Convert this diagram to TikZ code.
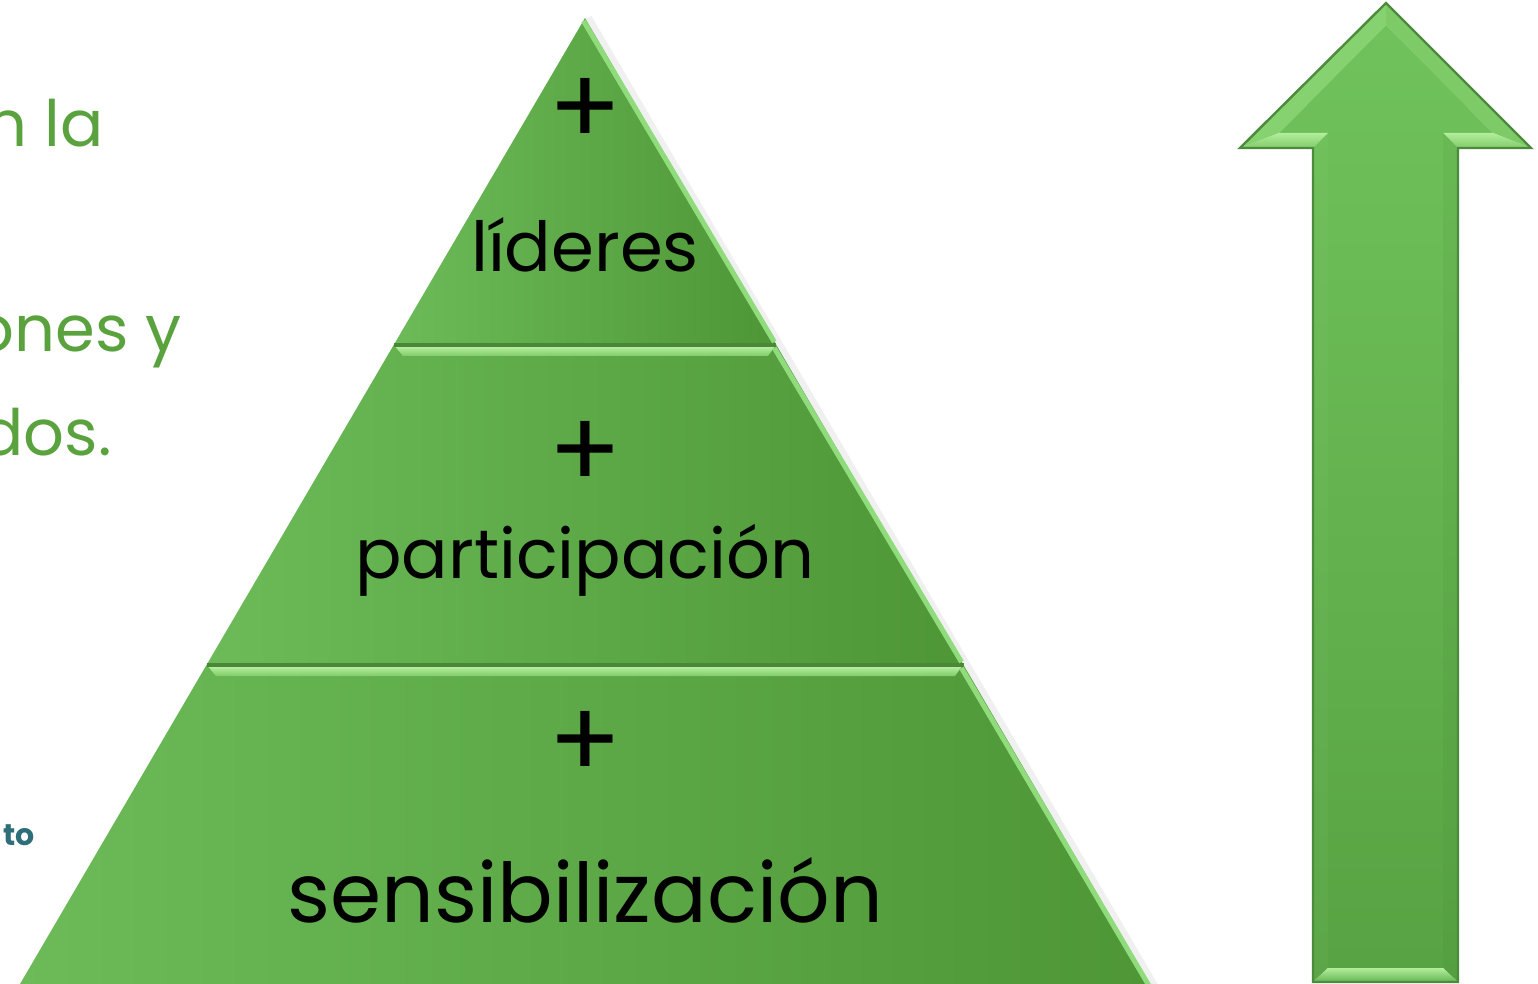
\documentclass[tikz,border=0pt]{standalone}
\usepackage{fontspec}
\setmainfont{Poppins}
\usetikzlibrary{calc}
\definecolor{gLight}{HTML}{6CBB58}
\definecolor{gDark}{HTML}{4E9636}
\definecolor{gHiTop}{HTML}{B2EE9B}
\definecolor{gHiBot}{HTML}{80CB6A}
\definecolor{gEdge}{HTML}{90DC7C}
\definecolor{gLine}{HTML}{4A8838}
\definecolor{txtGreen}{HTML}{5AA23E}
\definecolor{tealtxt}{HTML}{2D6E78}
\definecolor{arTop}{HTML}{70C25C}
\definecolor{arBot}{HTML}{58A343}
\tikzset{
  lbl/.style={inner sep=0pt, text=black},
  pluss/.style={inner sep=0pt, text=black, font=\fontsize{54}{64}\selectfont},
  lefttxt/.style={inner sep=0pt, text=txtGreen, font=\fontsize{32}{38}\selectfont},
  hiband/.style={top color=gHiTop, bottom color=gHiBot},
  layerfill/.style={left color=gLight, right color=gDark},
  edgehi/.style={gEdge, line width=2.5},
  edgeshadow/.style={black, opacity=0.06, line width=4},
}
\begin{document}
\begin{tikzpicture}[x=0.5pt,y=-0.5pt]
\useasboundingbox (0,0) rectangle (1538,984);

% ---------- left partial texts ----------
\node[lefttxt, anchor=base east] (s1) at (104,147) {n la};
\node[lefttxt, anchor=base east] (s2) at (182,352) {ones y};
\node[lefttxt, anchor=base east] (s3) at (112,455) {dos.};
\node[inner sep=0pt, anchor=base east, text=tealtxt, font=\fontsize{15}{18}\selectfont\bfseries] (s4) at (35,845) {to};

% ---------- pyramid ----------
\coordinate (apex) at (585,18);
\coordinate (l1L) at (393.7,345);
\coordinate (l1R) at (776.3,345);
\coordinate (l2L) at (206.5,665);
\coordinate (l2R) at (963.5,665);
\coordinate (l3L) at (16.5,990);
\coordinate (l3R) at (1153.5,990);

% soft shadow along the right edge
\draw[edgeshadow] ($(apex)+(3,0)$) -- ($(l3R)+(3,0)$);

\shade[layerfill] (apex) -- (l1R) -- (l1L) -- cycle;
\shade[layerfill] (l1L) -- (l1R) -- (l2R) -- (l2L) -- cycle;
\shade[layerfill] (l2L) -- (l2R) -- (l3R) -- (l3L) -- cycle;

% bevel highlights at layer tops
\shade[hiband] (395.5,347) -- (774.5,347) -- (768,356) -- (403,356) -- cycle;
\shade[hiband] (208.5,667) -- (961.5,667) -- (955,676) -- (216,676) -- cycle;
\draw[gLine, line width=2] (l1L) -- (l1R);
\draw[gLine, line width=2] (l2L) -- (l2R);

% right edge highlight
\draw[edgehi] ($(apex)+(-1.5,3)$) -- ($(l1R)+(-2,-3)$);
\draw[edgehi] ($(l1R)+(-2,3)$) -- ($(l2R)+(-2,-3)$);
\draw[edgehi] ($(l2R)+(-2,3)$) -- ($(l3R)+(-2,0)$);

% texts
\node[pluss] (p1) at (585,112) {+};
\node[lbl, anchor=base, font=\fontsize{34.5}{40}\selectfont] (t1) at (585,272) {líderes};
\node[pluss] (p2) at (585,455) {+};
\node[lbl, anchor=base, font=\fontsize{34.4}{40}\selectfont] (t2) at (585,578) {participación};
\node[pluss] (p3) at (585,745) {+};
\node[lbl, anchor=base, font=\fontsize{41.2}{48}\selectfont] (t3) at (585,922) {sensibilización};

% ---------- arrow ----------
\coordinate (aT) at (1386,3);
\coordinate (aR) at (1531,148);
\coordinate (aRS) at (1458,148);
\coordinate (aRB) at (1458,982);
\coordinate (aLB) at (1313,982);
\coordinate (aLS) at (1313,148);
\coordinate (aL) at (1240,148);
\coordinate (iT) at (1386,25);
\coordinate (iR) at (1493,133);
\coordinate (iRS) at (1443,133);
\coordinate (iRB) at (1443,968);
\coordinate (iLB) at (1328,968);
\coordinate (iLS) at (1328,133);
\coordinate (iL) at (1279,133);

\fill[black, opacity=0.12, shift={(3,3)}] (aT) -- (aR) -- (aRS) -- (aRB) -- (aLB) -- (aLS) -- (aL) -- cycle;
\shade[top color=arTop, bottom color=arBot] (iT) -- (iR) -- (iRS) -- (iRB) -- (iLB) -- (iLS) -- (iL) -- cycle;
\fill[color={rgb,255:red,134;green,209;blue,112}] (aL) -- (aT) -- (iT) -- (iL) -- cycle;
\fill[color={rgb,255:red,125;green,202;blue,103}] (aT) -- (aR) -- (iR) -- (iT) -- cycle;
\shade[hiband] (iR) -- (iRS) -- (aRS) -- (aR) -- cycle;
\shade[hiband] (iLS) -- (iL) -- (aL) -- (aLS) -- cycle;
\shade[top color={rgb,255:red,104;green,184;blue,84}, bottom color={rgb,255:red,85;green,159;blue,65}] (aRS) -- (aRB) -- (iRB) -- (iRS) -- cycle;
\shade[top color={rgb,255:red,112;green,192;blue,92}, bottom color={rgb,255:red,92;green,166;blue,72}] (aLB) -- (aLS) -- (iLS) -- (iLB) -- cycle;
\shade[top color=gHiTop, bottom color={rgb,255:red,100;green,180;blue,82}] (iRB) -- (iLB) -- (aLB) -- (aRB) -- cycle;
\draw[color={rgb,255:red,76;green,139;blue,60}, line width=1.2, line join=miter] (aT) -- (aR) -- (aRS) -- (aRB) -- (aLB) -- (aLS) -- (aL) -- cycle;
\end{tikzpicture}
\end{document}
